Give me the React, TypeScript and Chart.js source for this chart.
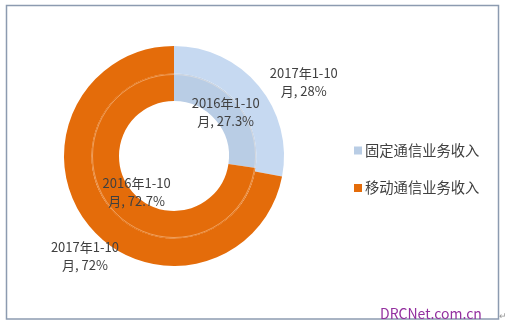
import React, { useEffect, useRef } from "react";
import { Chart, registerables } from "chart.js";

Chart.register(...registerables);

const categories = ["固定通信业务收入", "移动通信业务收入"];
const periods = ["2017年1-10月", "2016年1-10月"];
const values2017 = [28, 72];
const values2016 = [27.3, 72.7];
const outerColors = ["#C6D9F1", "#E46C0A"];
const innerColors = ["#B9CDE5", "#E46C0A"];
const legendColors = ["#B9CDE5", "#E46C0A"];

const FONT = '"Noto Sans CJK SC", "Noto Sans", sans-serif';

const decorPlugin = {
  id: "decor",
  beforeDraw(chart: any) {
    const ctx = chart.ctx;
    ctx.save();
    ctx.fillStyle = "#FFFFFF";
    ctx.fillRect(0, 0, chart.width, chart.height);
    ctx.strokeStyle = "#8C9BB0";
    ctx.lineWidth = 1.5;
    ctx.strokeRect(6.5, 5.5, 492, 313.5);
    ctx.restore();
  },
  afterDatasetsDraw(chart: any) {
    const ctx = chart.ctx;
    const outerMeta = chart.getDatasetMeta(0);
    const a0 = outerMeta.data[0];
    const cx = a0.x;
    const cy = a0.y;
    const R = a0.outerRadius;
    const ringR = a0.innerRadius - 1;
    ctx.save();
    // faint separator between the two rings
    ctx.strokeStyle = "rgba(255,235,215,0.4)";
    ctx.lineWidth = 1;
    ctx.beginPath();
    ctx.arc(cx, cy, ringR, 0, Math.PI * 2);
    ctx.stroke();

    ctx.fillStyle = "#404040";
    ctx.font = `13px ${FONT}`;
    ctx.textAlign = "center";
    ctx.textBaseline = "middle";
    const lineH = 18;
    const drawLabel = (period: string, value: number, x: number, y: number) => {
      const p1 = period.slice(0, period.length - 1);
      const p2 = period.slice(period.length - 1) + ", " + value + "%";
      ctx.fillText(p1, x, y - lineH / 2);
      ctx.fillText(p2, x, y + lineH / 2);
    };
    // positions relative to the chart geometry
    const outerPos = [
      { dx: 1.18, dy: -0.67 },
      { dx: -0.81, dy: 0.91 },
    ];
    const innerPos = [
      { dx: 0.47, dy: -0.4 },
      { dx: -0.34, dy: 0.33 },
    ];
    values2017.forEach((v, i) => {
      drawLabel(periods[0], v, cx + outerPos[i].dx * R, cy + outerPos[i].dy * R);
    });
    values2016.forEach((v, i) => {
      drawLabel(periods[1], v, cx + innerPos[i].dx * R, cy + innerPos[i].dy * R);
    });

    // legend
    ctx.font = `14.3px ${FONT}`;
    ctx.textAlign = "left";
    categories.forEach((c, i) => {
      const y = 150.5 + i * 37.5;
      ctx.fillStyle = legendColors[i];
      ctx.fillRect(354, y - 4, 8, 8);
      ctx.fillStyle = "#404040";
      ctx.fillText(c, 365, y);
    });

    // watermark
    ctx.font = `14px ${FONT}`;
    ctx.fillStyle = "#93309F";
    ctx.textAlign = "left";
    ctx.fillText("DRCNet.com.cn", 380, 314);
    ctx.fillStyle = "#999999";
    ctx.font = `9px ${FONT}`;
    ctx.fillText("↵", 499, 316);
    ctx.restore();
  },
};

export default function App() {
  const ref = useRef<HTMLCanvasElement>(null);
  useEffect(() => {
    document.body.style.margin = "0";
    const chart = new Chart(ref.current as HTMLCanvasElement, {
      type: "doughnut",
      data: {
        labels: categories,
        datasets: [
          {
            label: periods[0],
            data: values2017,
            backgroundColor: outerColors,
            borderWidth: 0,
          },
          {
            label: periods[1],
            data: values2016,
            backgroundColor: innerColors,
            borderWidth: 0,
          },
        ],
      },
      options: {
        animation: false,
        responsive: false,
        cutout: "50%",
        layout: { padding: { left: 64, top: 46, right: 222, bottom: 61 } },
        plugins: {
          legend: { display: false },
          tooltip: { enabled: false },
        },
      },
      plugins: [decorPlugin],
    });
    return () => chart.destroy();
  }, []);
  return (
    <div style={{ width: 506, height: 327 }}>
      <canvas ref={ref} width={506} height={327} style={{ display: "block" }} />
    </div>
  );
}
